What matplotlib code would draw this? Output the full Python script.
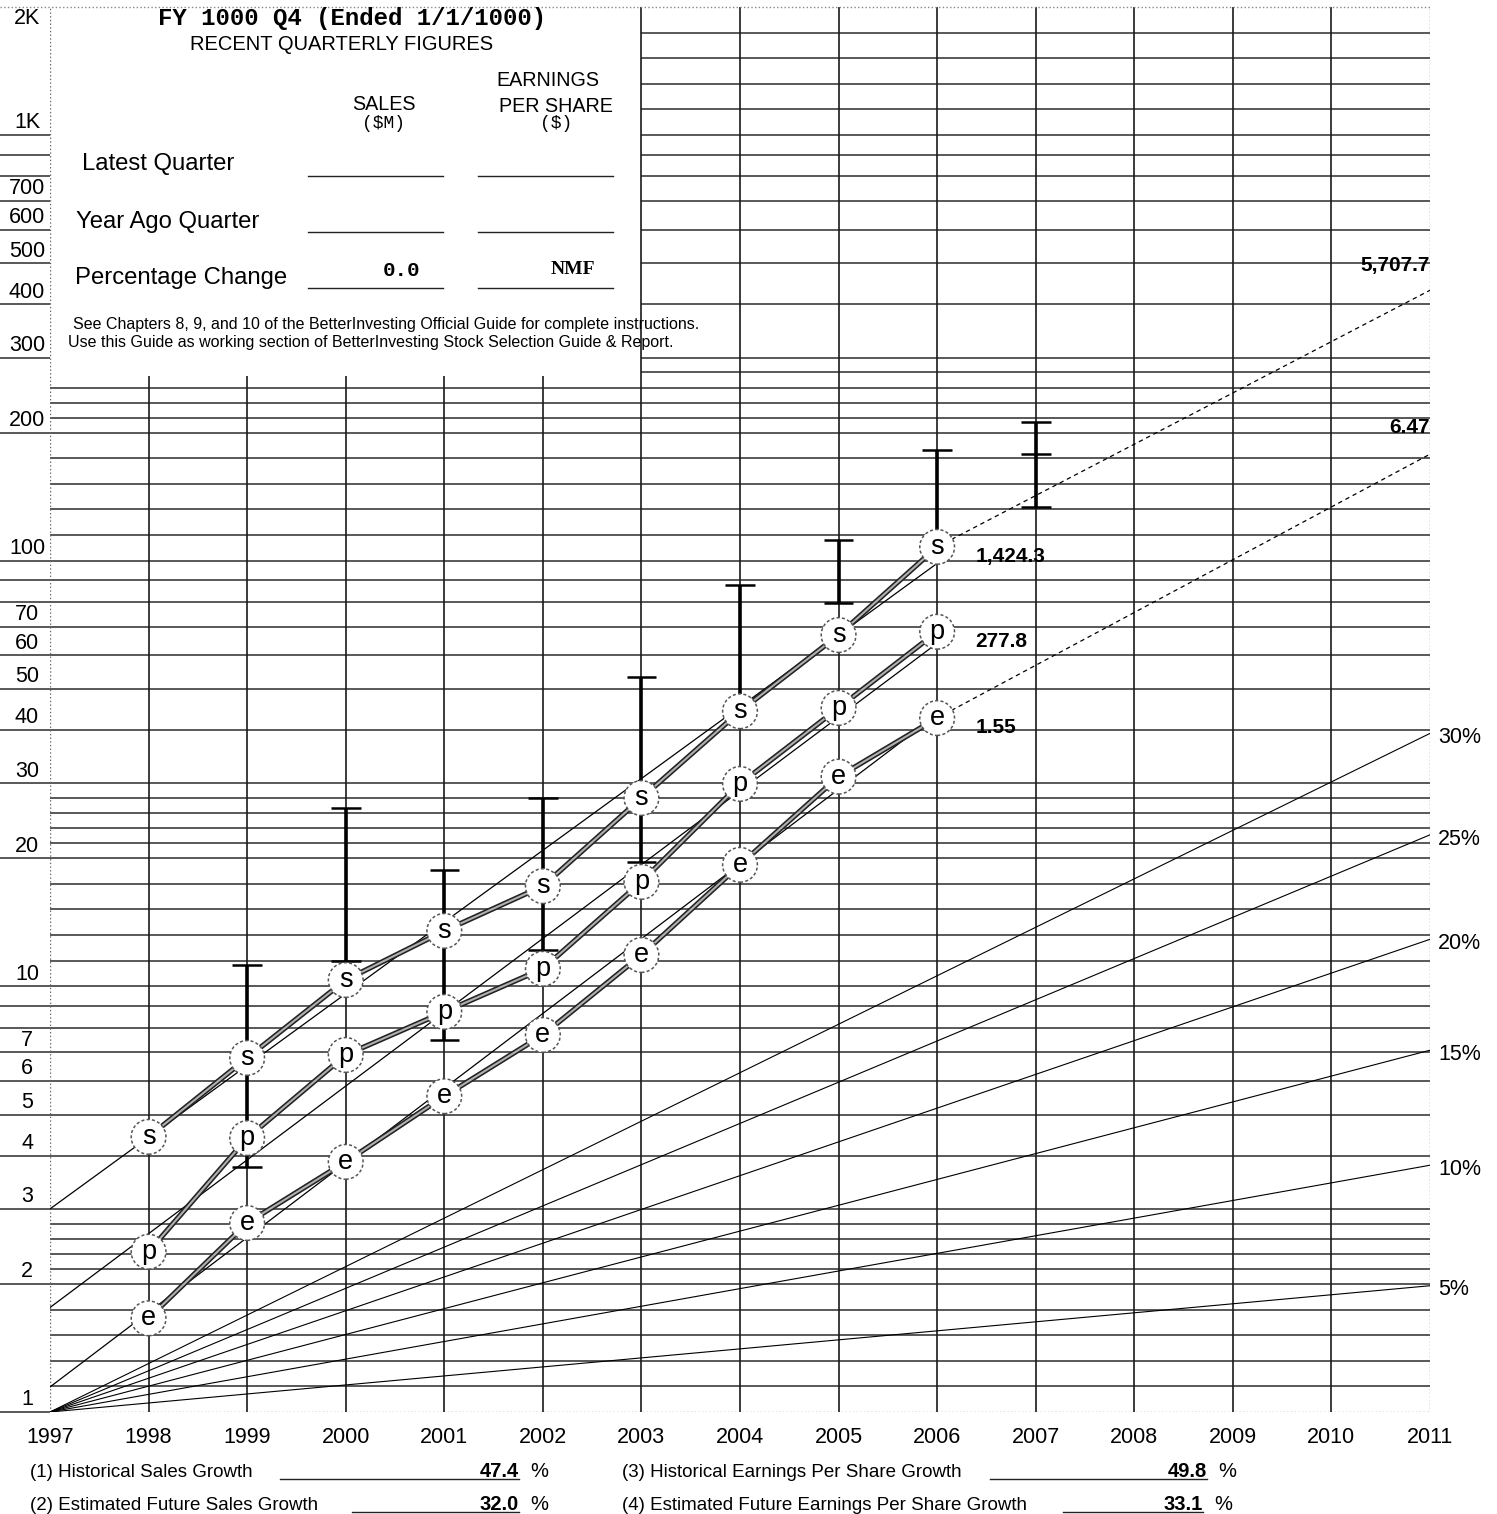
import matplotlib
matplotlib.use("Agg")
import matplotlib.pyplot as plt
from matplotlib.lines import Line2D

plt.rcParams["font.family"] = ["Liberation Sans", "DejaVu Sans"]

# ==========================================
# DATA (values as read on the log price axis)
# ==========================================
years = [1998, 1999, 2000, 2001, 2002, 2003, 2004, 2005, 2006]
sales_pts = [4.43, 6.79, 10.35, 13.5, 17.2, 27.7, 44.3, 66.9, 107.8]
pretax_pts = [2.38, 4.40, 6.90, 8.71, 11.0, 17.6, 29.9, 45.1, 68.1]
eps_pts = [1.66, 2.78, 3.87, 5.52, 7.69, 11.85, 19.3, 31.1, 42.7]

trend_years = [1997, 2006]
sales_trend = [3.0, 98.6]
pretax_trend = [1.76, 64.0]
eps_trend = [1.145, 43.5]

proj_years = [2006, 2011]
sales_proj = [107.8, 432.0]
eps_proj = [42.7, 178.0]

bar_years = [1999, 2000, 2001, 2002, 2003, 2004, 2005, 2006]
bar_high = [11.2, 26.2, 18.8, 27.7, 53.3, 87.7, 112.0, 182.0]
bar_low = [3.76, 11.5, 7.48, 12.2, 19.6, 44.3, 79.7, 107.8]

est_year = 2007
est_levels = [133.5, 178.0, 212.0]

fan_labels = ["5%", "10%", "15%", "20%", "25%", "30%"]
fan_end = [1.98, 3.80, 7.08, 12.9, 22.7, 39.3]

year_labels = [str(y) for y in range(1997, 2012)]

# log grid: majors and in-between lines for every decade
decades = [1, 10, 100, 1000]
major_mult = [1, 2, 3, 4, 5, 6, 7, 8, 9]
minor_mult = [1.149, 1.32, 1.516, 1.741, 2.17, 2.35, 2.55, 2.77]
ytick_vals = [1, 2, 3, 4, 5, 6, 7, 10, 20, 30, 40, 50, 60, 70,
              100, 200, 300, 400, 500, 600, 700, 1000]
ytick_text = ["1", "2", "3", "4", "5", "6", "7", "10", "20", "30", "40", "50",
              "60", "70", "100", "200", "300", "400", "500", "600", "700", "1K"]

point_labels = ["1,424.3", "277.8", "1.55"]
proj_labels = ["5,707.7", "6.47"]

growth_rows = [
    ("(1) Historical Sales Growth", "47.4", 30, 280, 519, 1477),
    ("(2) Estimated Future Sales Growth", "32.0", 30, 352, 519, 1510),
    ("(3) Historical Earnings Per Share Growth", "49.8", 622, 990, 1207, 1477),
    ("(4) Estimated Future Earnings Per Share Growth", "33.1", 622, 1063, 1203, 1510),
]

# ==========================================
# FIGURE
# ==========================================
W, H = 1497, 1514
fig = plt.figure(figsize=(W / 100, H / 100), dpi=100)
ax = fig.add_axes([50 / W, 102 / H, 1380 / W, 1405 / H])
ax.set_yscale("log")
ax.set_xlim(1997, 2011)
ax.set_ylim(1, 2000)
ax.axis("off")

BOX_X, BOX_Y = 2003, 272  # white quarterly-figures box covers the top-left
GRID = "#333333"
ytr = ax.get_yaxis_transform()
xtr = ax.get_xaxis_transform()
margin = -50 / 1380


def fx(px):
    return px / W


def fy(py):
    return 1 - py / H


# horizontal grid
for d in decades:
    for m in major_mult + minor_mult:
        v = d * m
        if v <= 1 or v >= 2000:
            continue
        x0 = 1997 if v < BOX_Y else BOX_X
        ax.hlines(v, x0, 2011, color=GRID, lw=1.15, zorder=1)
        if m in major_mult and v <= 1000:
            ax.hlines(v, margin, 0, transform=ytr, color=GRID, lw=1.15,
                      clip_on=False, zorder=1)
ax.hlines(1, 1997, 2011, color="#777777", lw=1.0, linestyles=":", zorder=1)
ax.hlines(1, margin, 0, transform=ytr, color=GRID, lw=1.15, clip_on=False)
ax.hlines(2000, margin, 1, transform=ytr, color="#888888", lw=1.0,
          linestyles=":", clip_on=False)

# vertical grid
for yr in range(1998, 2011):
    top = BOX_Y if yr < BOX_X else 2000
    ax.vlines(yr, 1, top, color="#1a1a1a", lw=1.2, zorder=1)
ax.vlines([1997, 2011], 1, 2000, color="#666666", lw=1.0, linestyles=":", zorder=1)

# growth fan from 1997
for lab, end in zip(fan_labels, fan_end):
    ax.plot([1997, 2011], [1, end], color="k", lw=0.8, zorder=2)
    ax.annotate(lab, xy=(2011, end), xytext=(6, -3), textcoords="offset points",
                ha="left", va="center", fontsize=15.5, annotation_clip=False)

# trend lines and projections
for tr in (sales_trend, pretax_trend, eps_trend):
    ax.plot(trend_years, tr, color="k", lw=0.9, zorder=2)
for pr in (sales_proj, eps_proj):
    ax.plot(proj_years, pr, color="k", lw=0.9, dashes=(3.5, 3), zorder=2)

# price high / low bars
ax.vlines(bar_years, bar_low, bar_high, color="k", lw=2.6, zorder=3)
for x, lo, hi in zip(bar_years, bar_low, bar_high):
    ax.hlines([lo, hi], x - 0.15, x + 0.15, color="k", lw=1.8, zorder=3)
ax.vlines(est_year, est_levels[0], est_levels[-1], color="k", lw=2.6, zorder=3)
ax.hlines(est_levels, est_year - 0.15, est_year + 0.15, color="k", lw=1.8, zorder=3)

# plotted series (double "railroad" lines with lettered circles)
for pts, letter in ((sales_pts, "s"), (pretax_pts, "p"), (eps_pts, "e")):
    ax.plot(years, pts, color="#222222", lw=3.8, zorder=4, solid_capstyle="butt")
    ax.plot(years, pts, color="#b0b0b0", lw=1.5, zorder=4.1, solid_capstyle="butt")
    ax.scatter(years, pts, s=25 ** 2, facecolors="white", edgecolors="#555555",
               linewidths=1.1, linestyles=(0, (2, 1.5)), zorder=5)
    for x, v in zip(years, pts):
        ax.text(x, v, letter, ha="center", va="center", fontsize=19.5, zorder=6)

# latest values and 5-year projections
for lab, v in zip(point_labels, (sales_pts[-1], pretax_pts[-1], eps_pts[-1])):
    ax.annotate(lab, xy=(years[-1], v), xytext=(27.5, -7), textcoords="offset points",
                ha="left", va="center", fontsize=15, fontweight="bold")
for lab, pr, dy in zip(proj_labels, (sales_proj, eps_proj), (18, 19.5)):
    ax.annotate(lab, xy=(2011, pr[-1]), xytext=(0, dy), textcoords="offset points",
                ha="right", va="center", fontsize=15, fontweight="bold",
                annotation_clip=False)

# axis labels
for v, t in zip(ytick_vals, ytick_text):
    ax.annotate(t, xy=(-23 / 1380, v), xycoords=ytr, xytext=(0, 1.2),
                textcoords="offset points", ha="center", va="bottom",
                fontsize=15.5, annotation_clip=False)
ax.annotate("2K", xy=(-23 / 1380, 2000), xycoords=ytr, xytext=(0, -1),
            textcoords="offset points", ha="center", va="top", fontsize=15.5,
            annotation_clip=False)
for i, t in enumerate(year_labels):
    ax.annotate(t, xy=(1997 + i, 0), xycoords=xtr, xytext=(0, -18.5),
                textcoords="offset points", ha="center", va="center",
                fontsize=15.5, annotation_clip=False)

# ==========================================
# QUARTERLY FIGURES BOX
# ==========================================
fig.text(fx(352), fy(18), "FY 1000 Q4 (Ended 1/1/1000)", family="Liberation Mono",
         fontweight="bold", fontsize=17.3, ha="center", va="center")
fig.text(fx(342), fy(45), "RECENT QUARTERLY FIGURES", fontsize=14.5,
         ha="center", va="center")
fig.text(fx(548), fy(80), "EARNINGS", fontsize=14.2, ha="center", va="center")
fig.text(fx(384), fy(104), "SALES", fontsize=14.2, ha="center", va="center")
fig.text(fx(556), fy(106), "PER SHARE", fontsize=14.2, ha="center", va="center")
fig.text(fx(384), fy(124), "($M)", family="Liberation Mono", fontsize=13, ha="center", va="center")
fig.text(fx(556), fy(124), "($)", family="Liberation Mono", fontsize=13, ha="center", va="center")

rows = [("Latest Quarter", 82, 164, 176), ("Year Ago Quarter", 76, 222, 232),
        ("Percentage Change", 75, 278, 288)]
for txt, x, y, uy in rows:
    fig.text(fx(x), fy(y), txt, fontsize=17.2, ha="left", va="center")
    for x0, x1 in ((308, 443), (478, 613)):
        fig.add_artist(Line2D([fx(x0), fx(x1)], [fy(uy), fy(uy)], color="#222222", lw=1.0))
fig.text(fx(402), fy(270), "0.0", family="Liberation Mono", fontweight="bold",
         fontsize=15, ha="center", va="center")
fig.text(fx(573), fy(270), "NMF", family="Liberation Serif", fontweight="bold",
         fontsize=14, ha="center", va="center")
fig.text(fx(73), fy(324), "See Chapters 8, 9, and 10 of the BetterInvesting Official "
         "Guide for complete instructions.", fontsize=11.5, ha="left", va="center")
fig.text(fx(68), fy(343), "Use this Guide as working section of BetterInvesting "
         "Stock Selection Guide & Report.", fontsize=11.5, ha="left", va="center")

# ==========================================
# GROWTH SUMMARY
# ==========================================
for txt, val, x, ux0, ux1, yb in growth_rows:
    fig.text(fx(x), fy(yb), txt, fontsize=13.5, ha="left", va="baseline")
    fig.add_artist(Line2D([fx(ux0), fx(ux1)], [fy(yb + 2), fy(yb + 2)], color="#222222", lw=1.0))
    fig.text(fx(ux1), fy(yb), val, fontsize=14.5, fontweight="bold", ha="right", va="baseline")
    fig.text(fx(ux1 + 11), fy(yb), "%", fontsize=14.5, ha="left", va="baseline")

fig.savefig("out.png", dpi=100, facecolor="white")
